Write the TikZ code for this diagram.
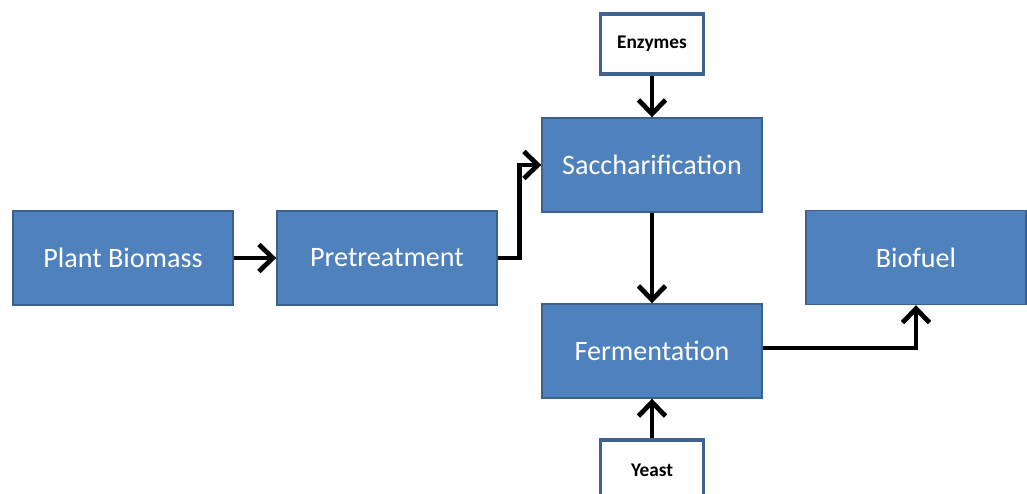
\documentclass[tikz,border=0pt]{standalone}
\usepackage{fontspec}
\setmainfont{Carlito}
\usetikzlibrary{positioning, arrows.meta}

\begin{document}
\begin{tikzpicture}
    [
        on grid,
        node distance=1.86cm and 5.28cm,
        stage/.style={draw=stageedge, fill=stagefill, rectangle, line width=0.8pt, minimum width=4.4cm, minimum height=1.88cm, text=white, font=\fontsize{16}{19}\selectfont},
        input/.style={draw=inputedge, fill=white, rectangle, line width=1.8pt, minimum width=2.06cm, minimum height=1.2cm, font=\bfseries\fontsize{11}{13}\selectfont},
        flow/.style={-{Straight Barb[length=2.8mm, width=5.4mm]}, line width=2.7pt, black}
    ]
        \definecolor{stagefill}{HTML}{4F81BD}
        \definecolor{stageedge}{HTML}{3A6190}
        \definecolor{inputedge}{HTML}{3E6391}
        \useasboundingbox (0,0) rectangle (20.54,-9.88);
        % =========================================================================
        % NODES
        % =========================================================================
        % --- Middle row ---
        \node [stage] at (2.46,-5.16) (biomass) {Plant Biomass};
        \node [stage, right=of biomass] (pretreat) {Pretreatment};
        % --- Centre column ---
        \node [stage, above right=of pretreat, xshift=0.02cm] (sacch) {Saccharification};
        \node [stage, below=3.72cm of sacch] (ferment) {Fermentation};
        \node [input, above=2.42cm of sacch] (enzymes) {Enzymes};
        \node [input, below=2.38cm of ferment] (yeast) {Yeast};
        % --- Right ---
        \node [stage, below right=of sacch, yshift=0.01cm] (biofuel) {Biofuel};
        \coordinate [right=0.44cm of pretreat.east] (bend1);

        % =========================================================================
        % PATHS
        % =========================================================================
        \draw [flow] (biomass.east) -- (pretreat.west);
        \draw [flow] (pretreat.east) -- (bend1) |- (sacch.west);
        \draw [flow] (enzymes.south) -- (sacch.north);
        \draw [flow] (sacch.south) -- (ferment.north);
        \draw [flow] (yeast.north) -- (ferment.south);
        \draw [flow] ([yshift=0.06cm]ferment.east) -| (biofuel.south);

    \end{tikzpicture}
\end{document}
